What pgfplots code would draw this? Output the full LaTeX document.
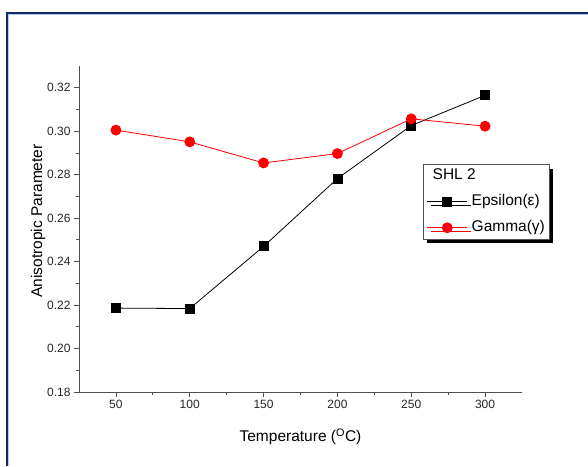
\documentclass[border=0pt]{standalone}
\usepackage{fontspec}
\setmainfont{Liberation Sans}
\usepackage{pgfplots}
\pgfplotsset{compat=1.18}
\usetikzlibrary{shadows}
\definecolor{navy}{RGB}{20,40,100}
\definecolor{lightframe}{RGB}{180,200,230}
\definecolor{axgray}{RGB}{80,80,80}
\begin{document}
\begin{tikzpicture}
\useasboundingbox (0pt,0pt) rectangle (588pt,466pt);
\fill[white] (0pt,0pt) rectangle (588pt,466pt);
\draw[navy, line width=2pt] (7pt,0pt) -- (7pt,453pt) -- (588pt,453pt);
\draw[lightframe, line width=0.8pt] (8.4pt,0pt) -- (8.4pt,451.6pt) -- (588pt,451.6pt);
\begin{axis}[
  at={(79pt,74pt)}, anchor=south west,
  scale only axis, width=443pt, height=326pt,
  xmin=25, xmax=325, ymin=0.18, ymax=0.33,
  axis x line*=bottom, axis y line*=left,
  axis line style={axgray, line width=0.8pt, -},
  xtick={50,100,150,200,250,300},
  ytick={0.18,0.20,0.22,0.24,0.26,0.28,0.30,0.32},
  minor x tick num=1, minor y tick num=1,
  tick align=outside,
  major tick length=5pt, minor tick length=3pt,
  tick style={axgray, line width=0.8pt},
  /pgf/number format/assume math mode=true,
  yticklabel style={/pgf/number format/.cd, fixed, fixed zerofill, precision=2},
  xticklabel style={/pgf/number format/.cd, fixed, precision=0},
  tick label style={font=\fontsize{12}{14}\selectfont, text=black!85},
  label style={font=\fontsize{15.5}{18}\selectfont},
  xlabel={Temperature (\textsuperscript{O}C)},
  xlabel style={yshift=-13pt},
  ylabel={Anisotropic Parameter},
  ylabel style={yshift=-5pt, xshift=8pt},
  legend cell align=left,
  legend image code/.code={\draw[mark repeat=2,mark phase=2] plot coordinates {(0pt,0pt) (20pt,0pt) (40pt,0pt)};},
  legend style={at={(0.7765,0.699)}, anchor=north west, draw=axgray, line width=0.8pt, fill=white,
    font=\fontsize{15.5}{18}\selectfont,
    drop shadow={shadow xshift=4pt, shadow yshift=-4pt, fill=black, opacity=1},
    inner xsep=3.5pt, inner ysep=3pt, row sep=9.5pt, column sep=3pt,
    nodes={inner sep=1pt, text height=11pt, text depth=3.5pt, font=\fontsize{15.5}{18}\selectfont}},
]
\addlegendimage{empty legend}
\addlegendentry{\hspace*{-39pt}SHL 2}
\addplot[black, line width=0.8pt, mark=square*, mark size=4.5pt, mark options={solid}]
  coordinates {(50,0.2186) (100,0.2184) (150,0.2470) (200,0.2782) (250,0.3026) (300,0.3165)};
\addlegendentry{Epsilon(ε)}
\addplot[red, line width=0.8pt, mark=*, mark size=5pt, mark options={solid, fill=red}]
  coordinates {(50,0.3005) (100,0.2951) (150,0.2854) (200,0.2897) (250,0.3057) (300,0.3023)};
\addlegendentry{Gamma(γ)}
\end{axis}
\end{tikzpicture}
\end{document}
